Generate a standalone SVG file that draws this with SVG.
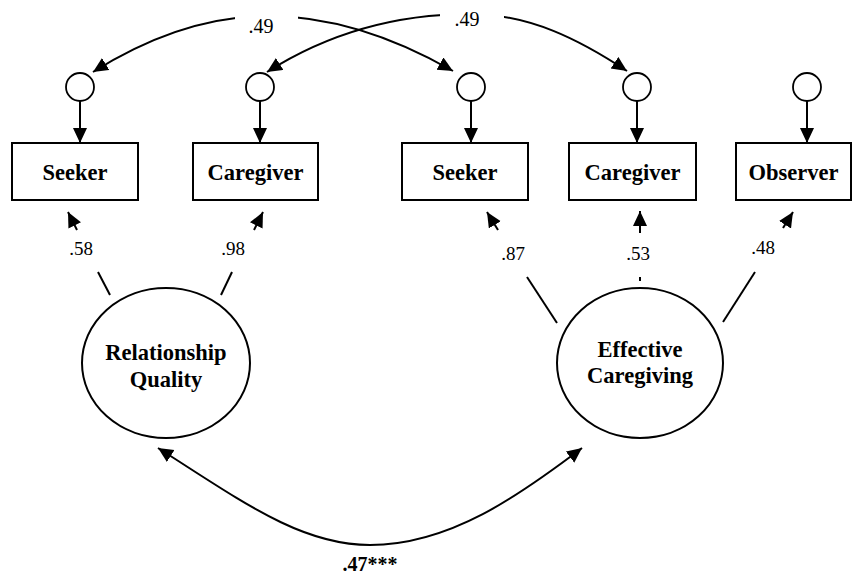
<svg xmlns="http://www.w3.org/2000/svg" width="853" height="574" viewBox="0 0 853 574">
<style>
.box{fill:#fff;stroke:#000;stroke-width:2}
.err{fill:#fff;stroke:#000;stroke-width:1.8}
.lat{fill:#fff;stroke:#000;stroke-width:2}
.ln{fill:none;stroke:#000;stroke-width:2}
.lbl{font-family:"Liberation Serif","Times New Roman",serif;font-weight:bold;font-size:22.5px;text-anchor:middle;fill:#000}
.num{font-family:"Liberation Serif","Times New Roman",serif;font-size:19px;text-anchor:middle;fill:#000}
.num20{font-family:"Liberation Serif","Times New Roman",serif;font-size:20px;text-anchor:middle;fill:#000}
.bnum{font-family:"Liberation Serif","Times New Roman",serif;font-size:20px;font-weight:bold;text-anchor:middle;fill:#000}
</style>
<defs>
<marker id="ah" markerUnits="userSpaceOnUse" markerWidth="16" markerHeight="16" viewBox="0 0 16 16" refX="15" refY="7" orient="auto-start-reverse">
<path d="M0,0 L15,7 L0,14 Z" fill="#000"/>
</marker>
</defs>
<rect width="853" height="574" fill="#fff"/>

<g id="connectors">
<!-- top covariances -->
<path class="ln" d="M93,72 C160,30 220,16 268,16 C330,16 390,35 453,71" marker-start="url(#ah)" marker-end="url(#ah)"/>
<path class="ln" d="M267,72 C330,32 400,14 470,14 C530,14 580,40 627,71" marker-start="url(#ah)" marker-end="url(#ah)"/>
<rect x="235" y="3" width="63" height="30" fill="#fff"/>
<rect x="440" y="2" width="64" height="26" fill="#fff"/>
<text class="num20" x="261" y="33">.49</text>
<text class="num20" x="467" y="26">.49</text>
<!-- error to indicator -->
<line class="ln" x1="80" y1="101" x2="80" y2="143" marker-end="url(#ah)"/>
<line class="ln" x1="260" y1="101" x2="260" y2="143" marker-end="url(#ah)"/>
<line class="ln" x1="471" y1="101" x2="471" y2="143" marker-end="url(#ah)"/>
<line class="ln" x1="637" y1="101" x2="637" y2="143" marker-end="url(#ah)"/>
<line class="ln" x1="807" y1="101" x2="807" y2="143" marker-end="url(#ah)"/>
<!-- loadings -->
<line class="ln" x1="77" y1="230" x2="68" y2="212" marker-end="url(#ah)"/>
<line class="ln" x1="98" y1="272" x2="110" y2="295"/>
<text class="num" x="81" y="255">.58</text>
<line class="ln" x1="254" y1="230" x2="263" y2="212" marker-end="url(#ah)"/>
<line class="ln" x1="232" y1="272" x2="221" y2="295"/>
<text class="num" x="233" y="255">.98</text>
<line class="ln" x1="498" y1="230" x2="487" y2="212" marker-end="url(#ah)"/>
<line class="ln" x1="527" y1="277" x2="557" y2="323"/>
<text class="num" x="513" y="260">.87</text>
<line class="ln" x1="640" y1="233" x2="640" y2="211" marker-end="url(#ah)"/>
<line class="ln" x1="640" y1="277" x2="640" y2="281"/>
<text class="num" x="638" y="260">.53</text>
<line class="ln" x1="783" y1="228" x2="793" y2="212" marker-end="url(#ah)"/>
<line class="ln" x1="755" y1="272" x2="723" y2="322"/>
<text class="num" x="763" y="254">.48</text>
<!-- latent covariance -->
<path class="ln" d="M158,448 C240,500 300,545 370,545 C450,545 520,495 582,448" marker-start="url(#ah)" marker-end="url(#ah)"/>
<text class="bnum" x="370" y="571">.47***</text>
</g>

<g id="e1"><circle class="err" cx="80" cy="87" r="14"/></g>
<g id="e2"><circle class="err" cx="260" cy="87" r="14"/></g>
<g id="e3"><circle class="err" cx="471" cy="87" r="14"/></g>
<g id="e4"><circle class="err" cx="637" cy="87" r="14"/></g>
<g id="e5"><circle class="err" cx="807" cy="87" r="14"/></g>

<g id="seeker1"><rect class="box" x="12" y="143" width="126" height="57"/><text class="lbl" x="75" y="180">Seeker</text></g>
<g id="caregiver1"><rect class="box" x="193" y="143" width="125" height="57"/><text class="lbl" x="255.5" y="180">Caregiver</text></g>
<g id="seeker2"><rect class="box" x="402" y="143" width="126" height="57"/><text class="lbl" x="465" y="180">Seeker</text></g>
<g id="caregiver2"><rect class="box" x="569" y="143" width="127" height="57"/><text class="lbl" x="632.5" y="180">Caregiver</text></g>
<g id="observer"><rect class="box" x="736" y="143" width="115" height="57"/><text class="lbl" x="793.5" y="180">Observer</text></g>

<g id="relationship_quality"><ellipse class="lat" cx="166" cy="363" rx="84" ry="75"/><text class="lbl" x="166" y="360">Relationship</text><text class="lbl" x="166" y="387">Quality</text></g>
<g id="effective_caregiving"><ellipse class="lat" cx="640" cy="363" rx="83" ry="75"/><text class="lbl" x="640" y="357">Effective</text><text class="lbl" x="640" y="383">Caregiving</text></g>
</svg>
